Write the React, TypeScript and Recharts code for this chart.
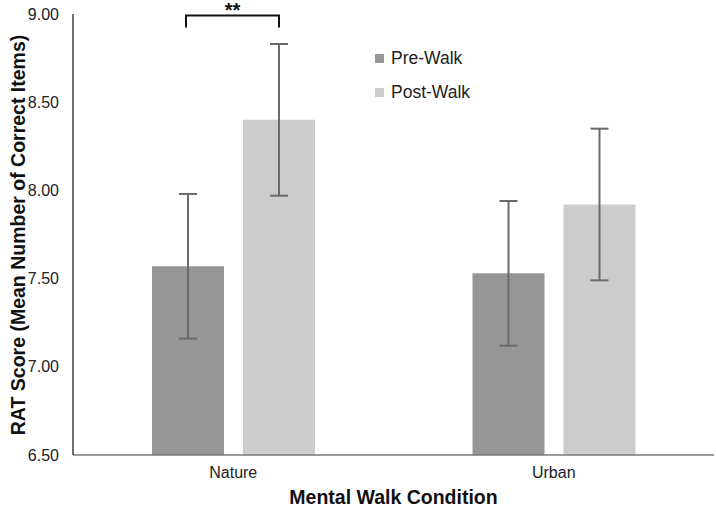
import { BarChart, Bar, XAxis, YAxis, ErrorBar, Legend } from 'recharts'

const conditions = ['Nature', 'Urban']
const seriesNames = ['Pre-Walk', 'Post-Walk']
const preWalk = [7.57, 7.53]
const postWalk = [8.4, 7.92]
const preWalkErr = [0.41, 0.41]
const postWalkErr = [0.43, 0.43]
const sigMarks = ['**', '']
const yTicks = [6.5, 7, 7.5, 8, 8.5, 9]

const data = conditions.map((c, i) => ({
  condition: c,
  pre: preWalk[i],
  post: postWalk[i],
  preErr: preWalkErr[i],
  postErr: postWalkErr[i],
}))

const FONT = '"Liberation Sans", Arial, sans-serif'
const BAR_SIZE = 72
const BAR_GAP = 19
const Y_MIN = 6.5
const Y_MAX = 9

function SigBracket(props: any) {
  const { x, y, width, height, index, value } = props
  const mark = sigMarks[index]
  if (!mark) return null
  // pixels per unit, from the bar itself, to find where 9.00 sits
  const ppu = height / (value - Y_MIN)
  const top = y - (Y_MAX - value) * ppu + 1.5
  const x1 = x + width / 2 - 2
  const x2 = x1 + width + BAR_GAP + 2
  return (
    <g>
      <path
        d={`M${x1},${top + 12} L${x1},${top} L${x2},${top} L${x2},${top + 12}`}
        fill="none"
        stroke="#111"
        strokeWidth={2}
      />
      <text
        x={(x1 + x2) / 2}
        y={top + 1.5}
        textAnchor="middle"
        fontFamily={FONT}
        fontWeight="bold"
        fontSize={20}
        fill="#111"
      >
        {mark}
      </text>
    </g>
  )
}

function LegendBox({ payload }: any) {
  const items = [...(payload || [])].sort(
    (a: any, b: any) => seriesNames.indexOf(a.value) - seriesNames.indexOf(b.value),
  )
  return (
    <div style={{ fontFamily: FONT, fontSize: 17.5, color: '#222' }}>
      {items.map((p: any) => (
        <div key={p.value} style={{ display: 'flex', alignItems: 'center', height: 34 }}>
          <span
            style={{ display: 'inline-block', width: 9, height: 9, background: p.color, marginRight: 7 }}
          />
          {p.value}
        </div>
      ))}
    </div>
  )
}

function YTitle() {
  const cy = 235
  return (
    <text
      x={18}
      y={cy}
      transform={`rotate(-90, 18, ${cy})`}
      textAnchor="middle"
      dominantBaseline="central"
      fontFamily={FONT}
      fontWeight="bold"
      fontSize={19.5}
      fill="#111"
    >
      RAT Score (Mean Number of Correct Items)
    </text>
  )
}

export default function App() {
  return (
    <div style={{ position: 'absolute', left: 0, top: 0, background: '#fff' }}>
      <BarChart
        width={716}
        height={514}
        data={data}
        margin={{ top: 14, right: 2, left: 0, bottom: 0 }}
        barSize={BAR_SIZE}
        barGap={BAR_GAP}
      >
        <XAxis
          dataKey="condition"
          height={59}
          stroke="#7a7a7a"
          strokeWidth={1.5}
          tickLine={false}
          tickSize={0}
          tickMargin={12}
          tick={{ fill: '#222', fontSize: 16, fontFamily: FONT }}
          label={{
            value: 'Mental Walk Condition',
            position: 'insideBottom',
            offset: 10,
            fill: '#111',
            fontSize: 19.5,
            fontWeight: 'bold',
            fontFamily: FONT,
          }}
        />
        <YAxis
          width={73}
          domain={[Y_MIN, Y_MAX]}
          ticks={yTicks}
          stroke="#404040"
          strokeWidth={1.5}
          tickLine={false}
          tickSize={0}
          tickMargin={14}
          tickFormatter={(v: number) => v.toFixed(2)}
          tick={{ fill: '#222', fontSize: 16, fontFamily: FONT }}
          label={<YTitle />}
        />
        <Legend
          layout="vertical"
          align="center"
          verticalAlign="middle"
          content={<LegendBox />}
          wrapperStyle={{ left: 375, top: 41, width: 'auto', height: 'auto' }}
        />
        <Bar dataKey="pre" name="Pre-Walk" fill="#969696" isAnimationActive={false} label={<SigBracket />}>
          <ErrorBar dataKey="preErr" width={9} stroke="#6a6a6a" strokeWidth={2} />
        </Bar>
        <Bar dataKey="post" name="Post-Walk" fill="#cccccc" isAnimationActive={false}>
          <ErrorBar dataKey="postErr" width={9} stroke="#6a6a6a" strokeWidth={2} />
        </Bar>
      </BarChart>
    </div>
  )
}
